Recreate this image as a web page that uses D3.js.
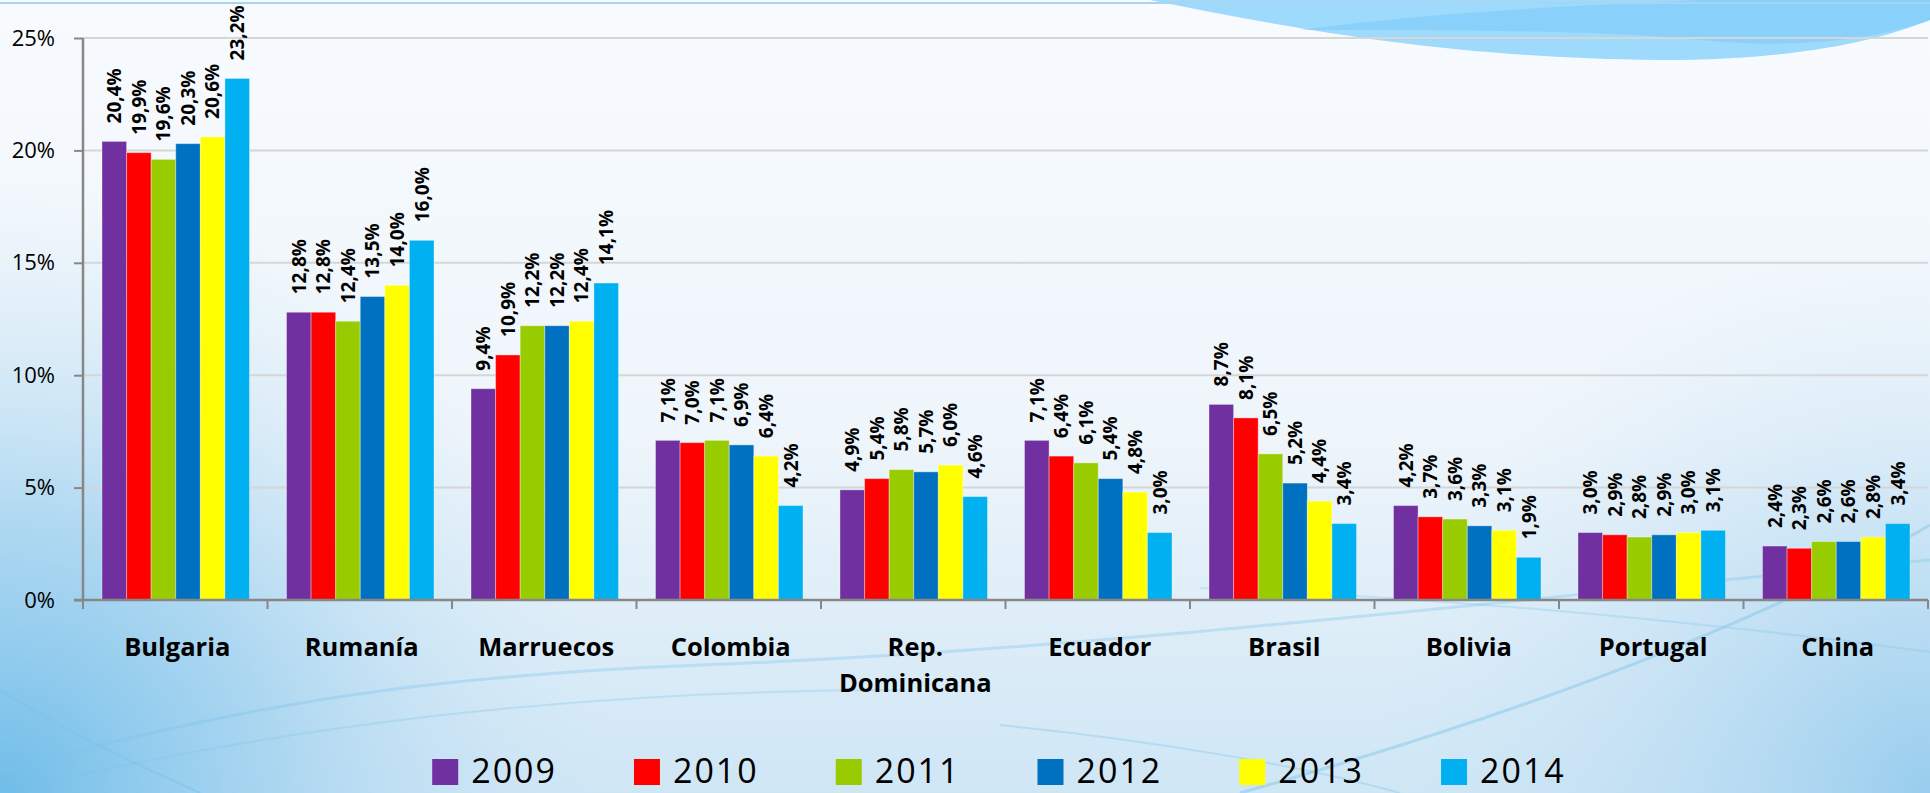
<!DOCTYPE html>
<html>
<head>
<meta charset="utf-8">
<script src="https://cdn.jsdelivr.net/npm/d3@7"></script>
<style>
  html, body { margin: 0; padding: 0; background: #eef5fb; }
  svg { display: block; }
  text { font-family: "Open Sans", "DejaVu Sans", sans-serif; fill: #000; }
</style>
</head>
<body>
<svg id="chart" width="1930" height="793"></svg>
<script>
// ---- data ----
const categories = ["Bulgaria", "Rumanía", "Marruecos", "Colombia", "Rep. Dominicana", "Ecuador", "Brasil", "Bolivia", "Portugal", "China"];
const years = ["2009", "2010", "2011", "2012", "2013", "2014"];
const v2009 = [20.4, 12.8, 9.4, 7.1, 4.9, 7.1, 8.7, 4.2, 3.0, 2.4];
const v2010 = [19.9, 12.8, 10.9, 7.0, 5.4, 6.4, 8.1, 3.7, 2.9, 2.3];
const v2011 = [19.6, 12.4, 12.2, 7.1, 5.8, 6.1, 6.5, 3.6, 2.8, 2.6];
const v2012 = [20.3, 13.5, 12.2, 6.9, 5.7, 5.4, 5.2, 3.3, 2.9, 2.6];
const v2013 = [20.6, 14.0, 12.4, 6.4, 6.0, 4.8, 4.4, 3.1, 3.0, 2.8];
const v2014 = [23.2, 16.0, 14.1, 4.2, 4.6, 3.0, 3.4, 1.9, 3.1, 3.4];
const yTicks = [0, 5, 10, 15, 20, 25];

// ---- styles ----
const seriesValues = [v2009, v2010, v2011, v2012, v2013, v2014];
const colors = ["#7030A0", "#FF0000", "#99CC00", "#0070C0", "#FFFF00", "#00B0F0"];

const W = 1930, H = 793;
const svg = d3.select("#chart");

// ---- background ----
const defs = svg.append("defs");
const lg = defs.append("linearGradient").attr("id", "bgLin").attr("x1", 0).attr("y1", 0).attr("x2", 0).attr("y2", 1);
lg.append("stop").attr("offset", "0%").attr("stop-color", "#f8fbfe");
lg.append("stop").attr("offset", "55%").attr("stop-color", "#eef5fb");
lg.append("stop").attr("offset", "100%").attr("stop-color", "#cfe6f5");
const rg = defs.append("radialGradient").attr("id", "bgRad")
  .attr("gradientUnits", "userSpaceOnUse").attr("cx", 0).attr("cy", 793).attr("r", 620);
rg.append("stop").attr("offset", "0%").attr("stop-color", "#6fbde9").attr("stop-opacity", 1);
rg.append("stop").attr("offset", "45%").attr("stop-color", "#9fd1ef").attr("stop-opacity", 0.75);
rg.append("stop").attr("offset", "100%").attr("stop-color", "#cfe6f5").attr("stop-opacity", 0);
const rg2 = defs.append("radialGradient").attr("id", "bgRad2")
  .attr("gradientUnits", "userSpaceOnUse").attr("cx", 1930).attr("cy", 793).attr("r", 560);
rg2.append("stop").attr("offset", "0%").attr("stop-color", "#98cdee").attr("stop-opacity", 1);
rg2.append("stop").attr("offset", "100%").attr("stop-color", "#cfe6f5").attr("stop-opacity", 0);

svg.append("rect").attr("width", W).attr("height", H).attr("fill", "url(#bgLin)");
svg.append("rect").attr("width", W).attr("height", H).attr("fill", "url(#bgRad)");
svg.append("rect").attr("width", W).attr("height", H).attr("fill", "url(#bgRad2)");

// decorative swoosh lines
const deco = svg.append("g").attr("fill", "none").attr("stroke", "#7cc3ec");
deco.append("path").attr("d", "M0,772 C250,700 450,675 700,665 C1100,650 1500,600 1930,560").attr("stroke-width", 3).attr("opacity", 0.35);
deco.append("path").attr("d", "M0,793 C300,720 600,690 900,690").attr("stroke-width", 2).attr("opacity", 0.3);
deco.append("path").attr("d", "M0,690 C80,740 150,770 200,793").attr("stroke-width", 2).attr("opacity", 0.55);
deco.append("path").attr("d", "M1000,725 C1150,740 1300,765 1400,793").attr("stroke-width", 2).attr("opacity", 0.35);
deco.append("path").attr("d", "M1240,793 C1500,720 1750,630 1930,525").attr("stroke-width", 3).attr("opacity", 0.45);
deco.append("path").attr("d", "M1200,588 C1500,600 1750,628 1930,652").attr("stroke-width", 2).attr("opacity", 0.3);

// top-right wave
svg.append("path")
  .attr("d", "M1150,0 C1300,30 1450,58 1660,60 C1800,60 1880,40 1930,20 L1930,0 Z")
  .attr("fill", "#8ed3fb").attr("opacity", 0.85);
svg.append("path")
  .attr("d", "M1300,30 C1450,10 1600,5 1700,0 L1930,0 L1930,20 C1880,38 1800,50 1700,40 C1600,30 1450,30 1300,30 Z")
  .attr("fill", "#7ccaf8").attr("opacity", 0.6);
svg.append("line").attr("x1", 0).attr("x2", W).attr("y1", 3).attr("y2", 3)
  .attr("stroke", "#a8d4f2").attr("stroke-width", 2);

// ---- scales ----
const x0 = d3.scaleBand().domain(categories).range([83, 1928]).paddingInner(0).paddingOuter(0);
const bw = x0.bandwidth();
const x1 = d3.scaleBand().domain(years).range([19, bw - 18]).padding(0);
const y = d3.scaleLinear().domain([0, 25]).range([600, 38]);

// gridlines
svg.append("g").selectAll("line").data(yTicks.filter(t => t > 0)).join("line")
  .attr("x1", 83).attr("x2", 1928)
  .attr("y1", d => y(d)).attr("y2", d => y(d))
  .attr("stroke", "#d6d6d6").attr("stroke-width", 2);

// bars
const rows = categories.map((c, i) => ({ cat: c, vals: years.map((yr, j) => ({ yr, j, v: seriesValues[j][i] })) }));
const groups = svg.append("g").selectAll("g").data(rows).join("g")
  .attr("transform", d => `translate(${x0(d.cat)},0)`);
groups.selectAll("rect").data(d => d.vals).join("rect")
  .attr("x", d => x1(d.yr))
  .attr("y", d => y(d.v))
  .attr("width", x1.bandwidth())
  .attr("height", d => y(0) - y(d.v))
  .attr("fill", d => colors[d.j])
  .attr("stroke", "rgba(255,255,255,0.35)")
  .attr("stroke-width", 1);

// value labels
const fmt = v => d3.format(".1f")(v).replace(".", ",") + "%";
groups.selectAll("text.val").data(d => d.vals).join("text")
  .attr("class", "val")
  .attr("transform", d => `translate(${x1(d.yr) + x1.bandwidth() / 2},${y(d.v) - 18}) rotate(-90)`)
  .attr("dy", "0.36em")
  .attr("text-anchor", "start")
  .style("font-size", "19px")
  .style("font-weight", "700")
  .text(d => fmt(d.v));

// y axis
const yAxis = svg.append("g").attr("transform", "translate(83,0)")
  .call(d3.axisLeft(y).tickValues(yTicks).tickFormat(d => d + "%").tickSize(9).tickPadding(19));
yAxis.select(".domain").attr("stroke", "#878787").attr("stroke-width", 2.5).attr("d", `M0,${y(25)}V${y(0)}`);
yAxis.selectAll(".tick line").attr("stroke", "#878787").attr("stroke-width", 2);
yAxis.selectAll(".tick text").style("font-size", "22px").style("font-family", "'Open Sans', sans-serif").attr("fill", "#111");

// x axis
const xAxis = svg.append("g").attr("transform", `translate(0,${y(0)})`);
xAxis.append("line").attr("x1", 74).attr("x2", 1928).attr("y1", 0).attr("y2", 0)
  .attr("stroke", "#878787").attr("stroke-width", 2.5);
const boundaries = categories.map(c => x0(c)).concat([x0(categories[categories.length - 1]) + bw]);
xAxis.selectAll("line.tk").data(boundaries).join("line").attr("class", "tk")
  .attr("x1", d => d).attr("x2", d => d).attr("y1", 0).attr("y2", 9)
  .attr("stroke", "#878787").attr("stroke-width", 2);

// category labels
const catLabels = svg.append("g").selectAll("text").data(categories).join("text")
  .attr("x", d => x0(d) + bw / 2 + 2)
  .attr("y", 656)
  .attr("text-anchor", "middle")
  .style("font-size", "25.5px")
  .style("font-weight", "700");
catLabels.each(function (d) {
  const t = d3.select(this);
  t.text(d);
  if (this.getComputedTextLength() > bw * 0.92) {
    t.text(null);
    const words = d.split(" ");
    words.forEach((w, i) => {
      t.append("tspan").attr("x", x0(d) + bw / 2 + 2).attr("dy", i === 0 ? 0 : 36).text(w);
    });
  }
});

// legend
const legend = svg.append("g");
let cursor = 0;
years.forEach((yr, j) => {
  const g = legend.append("g").attr("transform", `translate(${cursor},0)`);
  g.append("rect").attr("x", 0).attr("y", -24).attr("width", 26).attr("height", 26).attr("fill", colors[j]);
  const t = g.append("text").attr("x", 39).attr("y", 0)
    .style("font-size", "34px").style("letter-spacing", "2px").text(yr);
  const w = 39 + t.node().getComputedTextLength();
  cursor += w + 77;
});
const totalW = cursor - 77;
legend.attr("transform", `translate(${999 - totalW / 2},783)`);
</script>
</body>
</html>
